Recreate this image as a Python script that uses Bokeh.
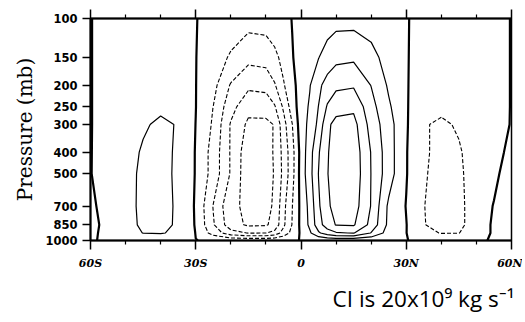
import numpy as np
from bokeh.plotting import figure
from bokeh.models import (Range1d, FixedTicker, LinearAxis, Title, PrintfTickFormatter,
                          CustomJSTickFormatter)
from bokeh.embed import file_html
from bokeh.resources import INLINE

# ---- data (streamfunction, units of 1e9 kg/s) ----
lat = [-60, -55, -50, -45, -40, -35, -30, -25, -20, -15, -10, -7.5, -5, -2.5, 0,
       2.5, 5, 7.5, 10, 15, 20, 25, 30, 35, 40, 45, 50, 55, 60]
pres = [100, 150, 200, 250, 300, 400, 500, 700, 850, 925, 1000]

psi_100 = [-0.05, 0.5, 1, 1.5, 2, 1, 0.3, -3, -8, -13, -12, -9, -5, 0.5, 4, 7, 10, 12, 14, 14, 10, 4, 0.3, -1.5, -2, -1.5, -1, -0.5, 0.05]
psi_150 = [-0.1, 1, 2, 4, 5, 3, 0.3, -8, -23, -35, -33, -25, -14, -1, 7, 12, 19.5, 28, 35, 37, 28, 10, 0.5, -3, -5, -4, -2, -1, 0.1]
psi_200 = [-0.2, 2, 5, 8, 10, 7, 0.3, -14, -42, -56, -54, -42, -22, -6, 9, 19, 35, 49, 56, 58, 39.5, 17.3, 1, -7, -10, -8, -4, -2, 0.2]
psi_250 = [-0.3, 3, 8, 14, 17, 13, 0.3, -20.3, -53, -74, -73, -62, -37, -10.4, 10.4, 22.4, 40.5, 62, 73, 76, 47, 23, 1.5, -12, -16, -13, -7, -3, 0.3]
psi_300 = [-0.4, 4, 10, 18, 23, 19, -0.3, -22.7, -62, -84, -84, -79, -48, -20.5, 11, 25, 45, 76, 86, 87, 52, 28, 2, -18.5, -23, -18, -9, -4, 0.5]
psi_400 = [-0.5, 6, 13, 22, 26, 17, -1, -28, -62, -93, -91, -77, -54, -27, 7, 32, 58, 78, 91, 92, 59, 29, 1, -17, -26, -22, -11, -4, 3]
psi_500 = [-0.5, 7, 15, 23, 27, 16, -1, -28, -62, -94, -92, -78, -55, -27, 8, 33, 60.5, 79, 92, 93, 59.5, 29, 1, -18, -27, -23, -12, -4, 9]
psi_700 = [-3, 6, 14, 24, 27, 17, -2, -41, -76, -84, -84, -78, -46, -20.5, 5, 26, 57, 76, 88, 89, 59, 16, -0.7, -19.5, -28, -24, -12, 1, 10]
psi_850 = [-6, 6, 14, 23, 26, 17, -1.5, -38, -72, -83, -82, -74, -44, -19, 5, 24, 52, 70, 81, 82, 54, 15, 0.5, -19, -28, -24, -12, 3, 9]
psi_925 = [-3, 4, 10, 20.5, 21.5, 16, -0.5, -28, -52, -61, -60.5, -53, -32, -14, 3, 17, 37, 50, 58, 61, 39, 11, 0.3, -14, -21, -20.5, -8, 2, 5]
psi_1000 = [-0.3, 0.5, 1, 1.5, 1.5, 1, 0.2, -1.5, -3, -3.5, -3.5, -3, -2, -1, 0.3, 1, 2, 3, 3.5, 3.5, 2.5, 1, 0.1, -0.8, -1.2, -1, -0.5, 0.3, 0.5]

neg_levels = [-80, -60, -40, -20]
pos_levels = [20, 40, 60, 80]
zero_level = [0]

x_ticks = [-60, -30, 0, 30, 60]
x_minor = [-50, -40, -20, -10, 10, 20, 40, 50]
x_labels = ["60S", "30S", "0", "30N", "60N"]
y_ticks = [100, 150, 200, 250, 300, 400, 500, 700, 850, 1000]
note_text = "CI is 20x10\u2079 kg s\u207b\u00b9"

Z = np.array([psi_100, psi_150, psi_200, psi_250, psi_300, psi_400, psi_500,
              psi_700, psi_850, psi_925, psi_1000], dtype=float)

p = figure(width=522, height=322, x_range=Range1d(-60, 60), y_range=Range1d(1000, 100),
           y_axis_type="log", output_backend="svg", toolbar_location=None,
           min_border_left=90, min_border_right=11, min_border_top=18, min_border_bottom=82)
p.grid.visible = False
p.outline_line_color = "black"
p.outline_line_width = 1.5
p.background_fill_color = "white"
p.border_fill_color = "white"

# contours
p.contour(x=lat, y=pres, z=Z, levels=neg_levels, line_color="black", line_width=1.1, line_dash="4 2")
p.contour(x=lat, y=pres, z=Z, levels=pos_levels, line_color="black", line_width=1.2)
p.contour(x=lat, y=pres, z=Z, levels=zero_level, line_color="black", line_width=2.2)

# bottom axis
xa = p.xaxis[0]
xa.ticker = FixedTicker(ticks=x_ticks, minor_ticks=x_minor)
xa.major_label_overrides = {t: l for t, l in zip(x_ticks, x_labels)}
xa.major_label_text_font = "DejaVu Serif"
xa.major_label_text_font_style = "bold italic"
xa.major_label_text_font_size = "11px"
xa.major_label_text_color = "black"
xa.major_label_standoff = 7
xa.axis_line_width = 2
xa.major_tick_out = 9
xa.major_tick_in = 0
xa.minor_tick_out = 4
xa.minor_tick_in = 0
xa.major_tick_line_width = 1.5
xa.minor_tick_line_width = 1.2

# left axis
ya = p.yaxis[0]
ya.ticker = FixedTicker(ticks=y_ticks, minor_ticks=[])
ya.formatter = PrintfTickFormatter(format="%d")
ya.major_label_text_font = "DejaVu Sans"
ya.major_label_text_font_style = "bold"
ya.major_label_text_font_size = "11.5px"
ya.major_label_text_color = "black"
ya.major_label_standoff = 5
ya.axis_line_width = 2
ya.major_tick_out = 8
ya.major_tick_in = 0
ya.major_tick_line_width = 1.5
ya.minor_tick_line_color = None
ya.axis_label = "Pressure (mb)"
ya.axis_label_text_font = "DejaVu Serif"
ya.axis_label_text_font_style = "normal"
ya.axis_label_text_font_size = "20px"
ya.axis_label_text_color = "black"
ya.axis_label_standoff = 5

# top axis (ticks only)
top = LinearAxis(ticker=FixedTicker(ticks=x_ticks, minor_ticks=x_minor),
                 formatter=CustomJSTickFormatter(code="return ''"))
top.major_label_standoff = 0
top.axis_line_width = 2
top.major_tick_out = 9
top.major_tick_in = 0
top.minor_tick_out = 4
top.minor_tick_in = 0
top.major_tick_line_width = 1.5
top.minor_tick_line_width = 1.2
p.add_layout(top, "above")

# contour interval note
note = Title(text=note_text, align="right", text_font="Open Sans", text_font_size="22.5px",
             text_font_style="normal", text_color="black", standoff=17, offset=-3,
             text_line_height=0.8)
p.add_layout(note, "below")

open("out.html", "w").write(file_html(p, INLINE))
